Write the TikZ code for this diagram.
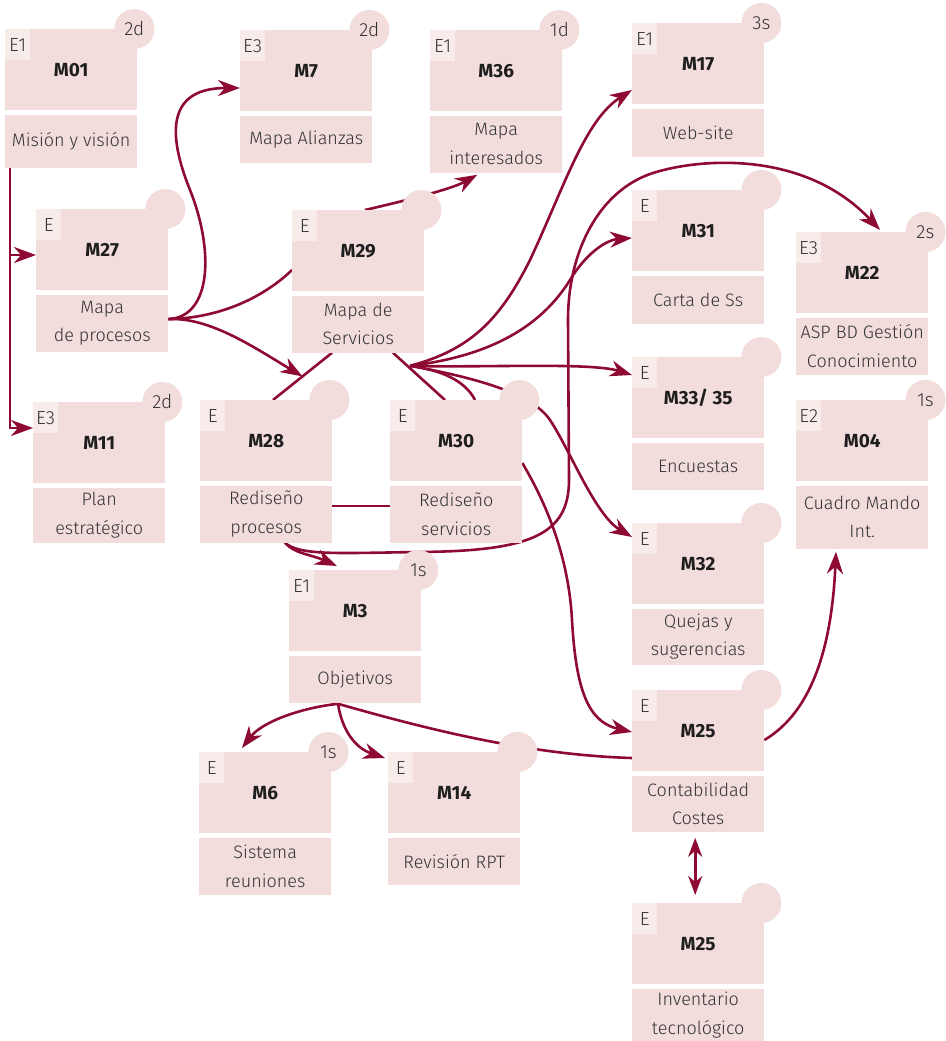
\documentclass[tikz,border=0pt]{standalone}
\usepackage{fontspec}
\setmainfont{Fira Sans}
\IfFontExistsTF{Fira Sans Light}{\newfontfamily\lightfont{Fira Sans Light}}{\newfontfamily\lightfont{Fira Sans}}
\usetikzlibrary{arrows.meta,calc}
\pgfdeclarelayer{background}
\pgfsetlayers{background,main}

\definecolor{boxfill}{HTML}{F2DDDC}
\definecolor{cornerfill}{HTML}{F8ECEB}
\definecolor{linkred}{HTML}{8E0A33}
\definecolor{txt}{HTML}{333333}
\definecolor{codetxt}{HTML}{1E1E1E}

\tikzset{
  topbox/.style={anchor=north west, fill=boxfill, minimum width=132pt, minimum height=81pt,
    inner sep=0pt, text=codetxt, font=\fontsize{19}{21}\selectfont\bfseries},
  descbox/.style={anchor=north west, fill=boxfill, minimum width=132pt, inner sep=0pt,
    align=center, text=txt, font=\lightfont\fontsize{18}{28.5}\selectfont},
  cornerbox/.style={anchor=north west, fill=cornerfill, minimum width=25pt, minimum height=31pt,
    inner sep=0pt, text=txt, font=\lightfont\fontsize{19}{21}\selectfont},
  badge/.style={circle, fill=boxfill, minimum size=40pt, inner sep=0pt, text=txt,
    font=\lightfont\fontsize{19}{21}\selectfont},
  link/.style={draw=linkred, line width=2.6pt},
  arrowed/.style={link, -{Stealth[length=22pt, width=16pt, inset=7pt]}},
  bothways/.style={link, {Stealth[length=19pt, width=14pt, inset=6pt]}-{Stealth[length=19pt, width=14pt, inset=6pt]}},
}

% #1 name, #2 x, #3 y, #4 corner tag, #5 code, #6 duration, #7 description, #8 description height
\newcommand{\module}[8]{%
  \node[topbox] (#1) at (#2,#3) {#5};
  \node[cornerbox] (#1e) at (#1.north west) {#4};
  \node[badge] (#1c) at ($(#1.north east)+(-3,0)$) {#6};
  \node[descbox, minimum height=#8pt] (#1d) at ($(#1.south west)+(0,4)$) {#7};
}

\begin{document}
\begin{tikzpicture}[x=1pt,y=-1pt]
\useasboundingbox (0,0) rectangle (945,1041);

\module{m01}{5}{29}{E1}{M01}{2d}{Misión y visión}{53}
\module{m7}{240}{30}{E3}{M7}{2d}{Mapa Alianzas}{47}
\module{m36}{430}{30}{E1}{M36}{1d}{Mapa\\interesados}{57}
\module{m17}{632}{23}{E1}{M17}{3s}{Web-site}{48}
\module{m27}{36}{209}{E}{M27}{}{Mapa\\de procesos}{57}
\module{m29}{292}{210}{E}{M29}{}{Mapa de\\Servicios}{57}
\module{m31}{632}{190}{E}{M31}{}{Carta de Ss}{48}
\module{m22}{796}{232}{E3}{M22}{2s}{ASP BD Gestión\\Conocimiento}{57}
\module{m33}{632}{357}{E}{M33/ 35}{}{Encuestas}{47}
\module{m04}{796}{400}{E2}{M04}{1s}{Cuadro Mando\\Int.}{63}
\module{m11}{33}{402}{E3}{M11}{2d}{Plan\\estratégico}{55}
\module{m28}{200}{400}{E}{M28}{}{Rediseño\\procesos}{57}
\module{m30}{390}{400}{E}{M30}{}{Rediseño\\servicios}{57}
\module{m32}{632}{523}{E}{M32}{}{Quejas y\\sugerencias}{56}
\module{m3}{289}{570}{E1}{M3}{1s}{Objetivos}{47}
\module{m25}{632}{690}{E}{M25}{}{Contabilidad\\Costes}{56}
\module{m6}{199}{752}{E}{M6}{1s}{Sistema\\reuniones}{57}
\module{m14}{388}{752}{E}{M14}{}{Revisión RPT}{47}
\module{m25b}{632}{903}{E}{M25}{}{Inventario\\tecnológico}{53}

\begin{pgfonlayer}{background}
\fill[white] (0,0) rectangle (945,1041);

% trunk below M01 feeding M27 and M11
\coordinate (t0) at ($(m01d.south west)+(5,0)$);
\coordinate (m27in) at ($(m27.north west)+(0,46)$);
\coordinate (m11in) at ($(m11.north west)+(0,26)$);
\draw[arrowed] (t0) |- (m11in);
\draw[arrowed] (t0 |- m27in) -- (m27in);

% M27 outputs
\coordinate (m27o) at ($(m27d.east)+(0,-4)$);
\draw[arrowed] (m27o) .. controls (212,317) and (214,250) .. (190,190)
  .. controls (172,145) and (160,88) .. ($(m7.north west)+(0,58)$);
\draw[link] (m27o) .. controls (222,318) and (265,296) .. ($(m29.north west)+(0,60)$);
\coordinate (l1) at ($(m29d.south west)+(40,0)$);
\coordinate (l2) at ($(m28.north west)+(73,0)$);
\draw[link] (l1) -- (l2);
\draw[arrowed] (m27o) .. controls (210,317) and (255,348) .. ($(l1)!0.5!(l2)$);

% M29 outputs
\draw[arrowed] ($(m29.north west)+(73,0)$) .. controls (395,203) and (450,190) .. ($(m36d.south)+(-19,2)$);
\coordinate (hub) at ($(m29d.south west)+(118,13)$);
\draw[link] ($(m29d.south west)+(101,0)$) -- ($(m30.north west)+(55,0)$);
\draw[arrowed] (hub) .. controls (470,350) and (500,320) .. (530,260)
  .. controls (565,185) and (585,120) .. ($(m17.north west)+(0,67)$);
\draw[arrowed] (hub) .. controls (500,355) and (545,320) .. (570,280)
  .. controls (585,255) and (605,240) .. ($(m31.north west)+(0,48)$);
\draw[arrowed] (hub) .. controls (480,368) and (590,362) .. ($(m33.north west)+(0,18)$);
\draw[link] (hub) .. controls (440,370) and (465,380) .. ($(m30.north west)+(85,0)$);
\draw[arrowed] (hub) .. controls (460,375) and (530,390) .. (550,420)
  .. controls (570,450) and (595,515) .. ($(m32.north west)+(0,14)$);

% M28 outputs
\coordinate (m28o) at ($(m28d.south west)+(85,0)$);
\draw[arrowed] (m28o) .. controls (295,554) and (310,554) .. ($(m3.north west)+(48,-4)$);
\draw[arrowed] (m28o) .. controls (300,556) and (340,553) .. (420,552)
  .. controls (530,551) and (569,535) .. (569,480) -- (568,320)
  .. controls (568,250) and (600,190) .. (653,173)
  .. controls (700,158) and (805,150) .. ($(m22.north west)+(84,-2)$);
\coordinate (r1) at ($(m28d.east)+(0,-8)$);
\draw[link] (r1) -- (r1 -| m30d.west);

% M30 to M25
\draw[arrowed] ($(m30.north east)+(0,63)$) .. controls (538,490) and (568,545) .. (572,620)
  .. controls (576,690) and (588,722) .. ($(m25.north west)+(0,42)$);

% M3 outputs
\coordinate (m3o) at ($(m3d.south west)+(49,1)$);
\draw[arrowed] (m3o) .. controls (300,708) and (262,722) .. ($(m6.north west)+(43,-4)$);
\draw[arrowed] (m3o) .. controls (342,730) and (355,748) .. ($(m14.north west)+(-3,6)$);
\draw[link] (m3o) .. controls (430,730) and (530,755) .. ($(m25.north west)+(0,68)$);

% M25 links
\draw[arrowed] ($(m25.north east)+(0,50)$) .. controls (815,710) and (832,640) .. ($(m04d.south west)+(40,3)$);
\draw[bothways] ($(m25d.south)+(-3,6)$) -- ($(m25b.north)+(-3,-8)$);
\end{pgfonlayer}
\end{tikzpicture}
\end{document}
